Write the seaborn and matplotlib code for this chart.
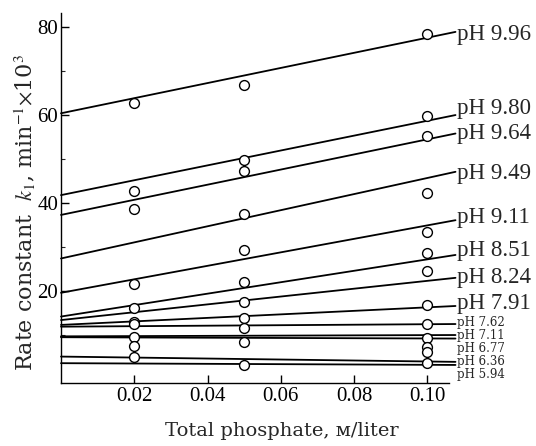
import numpy as np
import pandas as pd
import matplotlib
matplotlib.use("Agg")
import matplotlib.pyplot as plt
import seaborn as sns

# ---- data ----
ph_labels = ["pH 9.96", "pH 9.80", "pH 9.64", "pH 9.49", "pH 9.11", "pH 8.51",
             "pH 8.24", "pH 7.91", "pH 7.62", "pH 7.11", "pH 6.77", "pH 6.36", "pH 5.94"]
x_points = [0.02, 0.05, 0.10]
k_at_002 = [62.8, 42.8, 38.6, np.nan, 21.6, 16.1, 13.0, 12.5, np.nan, 9.6, 7.6, 4.9, np.nan]
k_at_005 = [66.8, 49.8, 47.3, 37.5, 29.3, 22.0, 17.4, 13.9, 11.5, 8.5, np.nan, np.nan, 3.3]
k_at_010 = [78.5, 59.8, 55.2, 42.3, 33.5, 28.6, 24.6, 16.8, 12.5, 9.4, 7.3, 6.2, 3.7]
# fitted lines: value at x = 0 and at right end
line_x = [0.0, 0.1077]
line_start = [60.4, 41.8, 37.3, 27.4, 19.6, 14.2, 13.4, 12.3, 11.9, 9.7, 9.5, 5.1, 3.6]
line_end = [78.9, 60.0, 55.8, 47.1, 36.1, 28.2, 23.0, 16.6, 12.5, 10.0, 9.2, 3.9, 3.2]
label_y = [78.4, 61.4, 55.9, 46.8, 36.6, 29.2, 23.1, 17.2, 12.8, 10.0, 7.0, 4.0, 1.1]
big_label = [True] * 8 + [False] * 5

# ---- build long tables ----
pts = []
for i, lab in enumerate(ph_labels):
    for x, arr in zip(x_points, [k_at_002, k_at_005, k_at_010]):
        if not np.isnan(arr[i]):
            pts.append({"series": lab, "x": x, "k": arr[i]})
pts = pd.DataFrame(pts)

sns.set_style("ticks")
plt.rcParams["font.family"] = ["Liberation Serif", "DejaVu Serif"]
plt.rcParams["mathtext.fontset"] = "stix"

fig = plt.figure(figsize=(5.36, 4.46), dpi=100)
ax = fig.add_axes([0.1138, 0.1413, 0.7230, 0.8296])

for i, lab in enumerate(ph_labels):
    seg = pd.DataFrame({"x": line_x, "k": [line_start[i], line_end[i]]})
    sns.lineplot(data=seg, x="x", y="k", ax=ax, color="black", lw=1.3,
                 clip_on=False, legend=False, zorder=2)
    ax.text(line_x[1] + 0.0003, label_y[i], lab,
            fontsize=16.5 if big_label[i] else 8.5,
            family=["Liberation Serif"] if big_label[i] else ["DejaVu Serif"],
            ha="left", va="center", clip_on=False)

sns.scatterplot(data=pts, x="x", y="k", ax=ax, marker="o", s=50,
                facecolor="white", edgecolor="black", linewidth=1.0,
                zorder=3, legend=False, clip_on=False)

ax.set_xlim(0, 0.1058)
ax.set_ylim(-0.9, 83.2)
ax.set_xticks([0.02, 0.04, 0.06, 0.08, 0.10])
ax.set_xticklabels(["0.02", "0.04", "0.06", "0.08", "0.10"])
ax.set_yticks([20, 40, 60, 80])
ax.set_yticks([10, 30, 50, 70], minor=True)
ax.tick_params(axis="both", which="major", direction="in", length=6, width=1,
               labelsize=15, pad=3, colors="black")
ax.tick_params(axis="y", which="minor", direction="in", length=3, width=0.8)
ax.tick_params(axis="y", pad=2)
for s in ["top", "right"]:
    ax.spines[s].set_visible(False)
for s in ["left", "bottom"]:
    ax.spines[s].set_linewidth(1.0)
    ax.spines[s].set_color("black")

ax.set_xlabel("Total phosphate, м/liter", fontsize=14, family=["DejaVu Serif"])
ax.xaxis.set_label_coords(0.57, -0.105)
ax.set_ylabel(r"Rate constant  $k_1$, min$^{-1}$$\times$10$^3$", fontsize=16,
              family=["DejaVu Serif"])
ax.yaxis.set_label_coords(-0.06, 0.46)

fig.savefig("out.png", dpi=100)
